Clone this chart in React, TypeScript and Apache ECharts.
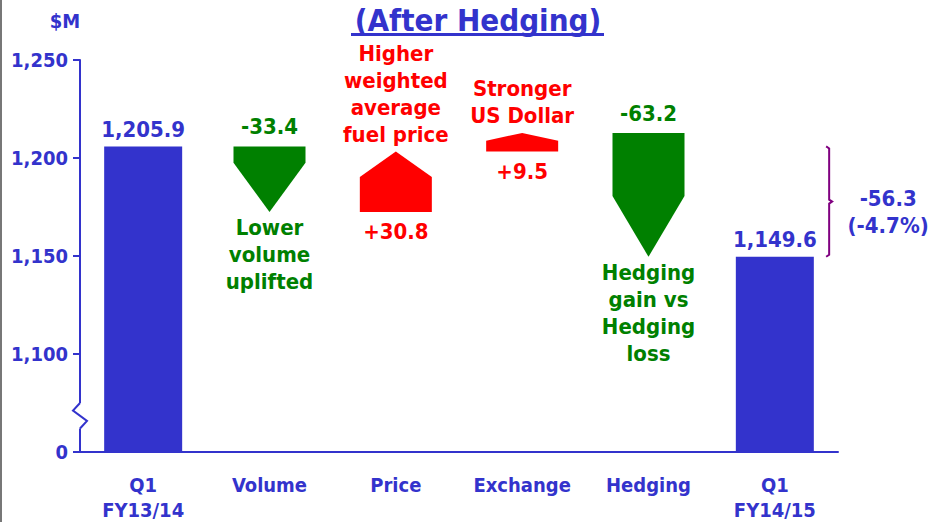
import React, { useEffect, useRef } from 'react';
import * as echarts from 'echarts';

// ---- data ----
const categories = ['Q1\nFY13/14', 'Volume', 'Price', 'Exchange', 'Hedging', 'Q1\nFY14/15'];
const startTotal = 1205.9;
const endTotal = 1149.6;
const deltaIndex = [1, 2, 3, 4];
const deltas = [-33.4, 30.8, 9.5, -63.2];
const deltaNotes = [
  'Lower\nvolume\nuplifted',
  'Higher\nweighted\naverage\nfuel price',
  'Stronger\nUS Dollar',
  'Hedging\ngain vs\nHedging\nloss',
];
const yMin = 1050; // shown as 0 (broken axis)
const yMax = 1250;
const yStep = 50;
const yZeroLabel = '0';
const breakRange = [1075, 1062]; // where the axis break zigzag sits

// ---- styles ----
const BLUE = '#3333CC';
const GREEN = '#008000';
const RED = '#FF0000';
const PURPLE = '#800080';
const FONT = "'DejaVu Sans Condensed', 'DejaVu Sans', sans-serif";
const headFrac = [0.75, 0.42, 0.42, 0.49];

const fmt1 = (v: number) => v.toLocaleString('en-US', { minimumFractionDigits: 1, maximumFractionDigits: 1 });

export default function App() {
  const ref = useRef<HTMLDivElement>(null);

  useEffect(() => {
    if (!ref.current) return;
    const chart = echarts.init(ref.current, undefined, { renderer: 'svg' });

    // waterfall segments
    const arrowData: number[][] = [];
    let run = startTotal;
    deltas.forEach((d, i) => {
      arrowData.push([deltaIndex[i], run, run + d, d]);
      run += d;
    });
    const totalData = categories.map((_, i) =>
      i === 0 ? startTotal : i === categories.length - 1 ? endTotal : '-'
    );
    const diff = endTotal - startTotal;
    const pct = (diff / startTotal) * 100;

    const txt = (text: string, x: number, y: number, color: string, size: number, va: string, lh = 27) => ({
      type: 'text',
      x,
      y,
      style: {
        text,
        fill: color,
        fontSize: size,
        fontWeight: 'bold',
        fontFamily: FONT,
        align: 'center',
        textAlign: 'center',
        verticalAlign: va,
        textVerticalAlign: va,
        lineHeight: lh,
      },
    });

    const option: any = {
      animation: false,
      grid: { left: 80, right: 99, top: 60, bottom: 70, containLabel: false, outerBoundsMode: 'none' },
      xAxis: {
        type: 'category',
        data: categories,
        axisLine: { lineStyle: { color: BLUE, width: 2 } },
        axisTick: { length: 6, lineStyle: { color: BLUE, width: 2 }, alignWithLabel: false },
        axisLabel: {
          color: BLUE,
          fontSize: 20,
          fontWeight: 'bold',
          fontFamily: FONT,
          margin: 20,
          lineHeight: 25,
          interval: 0,
        },
        splitLine: { show: false },
      },
      yAxis: {
        type: 'value',
        min: yMin,
        max: yMax,
        interval: yStep,
        axisLine: { show: true, lineStyle: { color: BLUE, width: 2 } },
        axisTick: { show: true, length: 7, lineStyle: { color: BLUE, width: 2 } },
        axisLabel: {
          color: BLUE,
          fontSize: 20,
          fontWeight: 'bold',
          fontFamily: FONT,
          margin: 12,
          formatter: (v: number) => (v === yMin ? yZeroLabel : v.toLocaleString('en-US')),
        },
        splitLine: { show: false },
      },
      graphic: [
        { type: 'rect', shape: { x: 0, y: 0, width: 2, height: 522 }, style: { fill: '#777777' } },
        txt('(After Hedging)', 478, 20, BLUE, 31, 'middle'),
        { type: 'rect', shape: { x: 351, y: 33, width: 253, height: 3 }, style: { fill: BLUE } },
        txt('$M', 65, 21, BLUE, 20, 'middle'),
      ],
      series: [
        {
          type: 'bar',
          data: totalData,
          barWidth: 78,
          itemStyle: { color: BLUE },
          clip: true,
          label: {
            show: true,
            position: 'top',
            distance: 6,
            color: BLUE,
            fontSize: 22,
            fontWeight: 'bold',
            fontFamily: FONT,
            formatter: (p: any) => fmt1(p.value),
          },
          z: 2,
        },
        {
          type: 'custom',
          clip: false,
          z: 3,
          data: arrowData,
          encode: { x: 0, y: [1, 2] },
          renderItem: (params: any, api: any) => {
            const idx = api.value(0);
            const s = api.value(1);
            const e = api.value(2);
            const d = api.value(3);
            const [cx, ys] = api.coord([idx, s]);
            const [, ye] = api.coord([idx, e]);
            const w = api.size([1, 0])[0] * 0.57;
            const f = headFrac[params.dataIndex];
            const ysh = ye + (ys - ye) * f;
            const color = d < 0 ? GREEN : RED;
            const down = d < 0;
            const valueText = (d > 0 ? '+' : '') + fmt1(d);
            return {
              type: 'group',
              children: [
                {
                  type: 'polygon',
                  shape: {
                    points: [
                      [cx - w / 2, ys],
                      [cx + w / 2, ys],
                      [cx + w / 2, ysh],
                      [cx, ye],
                      [cx - w / 2, ysh],
                    ],
                  },
                  style: { fill: color },
                },
                txt(valueText, cx, down ? ys - 6 : ys + 6, color, 22, down ? 'bottom' : 'top'),
                txt(deltaNotes[params.dataIndex], cx, down ? ye + 2 : ye - 4, color, 22, down ? 'top' : 'bottom'),
              ],
            };
          },
        },
        {
          type: 'custom',
          clip: false,
          z: 3,
          data: [[categories.length - 1, startTotal, endTotal]],
          encode: { x: 0, y: [1, 2] },
          renderItem: (params: any, api: any) => {
            const idx = api.value(0);
            const [x5, yt] = api.coord([idx, api.value(1)]);
            const [, yb] = api.coord([idx, api.value(2)]);
            const bx = x5 + api.size([1, 0])[0] * 0.43;
            const ym = (yt + yb) / 2;
            return {
              type: 'group',
              children: [
                {
                  type: 'polyline',
                  shape: {
                    points: [
                      [bx - 3, yt],
                      [bx, yt + 2],
                      [bx, ym - 2],
                      [bx + 3, ym],
                      [bx, ym + 2],
                      [bx, yb - 2],
                      [bx - 3, yb],
                    ],
                  },
                  style: { stroke: PURPLE, lineWidth: 2, fill: 'none' },
                },
                txt(fmt1(diff) + '\n(' + pct.toFixed(1) + '%)', bx + 59, ym + 10, BLUE, 22, 'middle'),
              ],
            };
          },
        },
        {
          type: 'custom',
          clip: false,
          z: 4,
          data: [[0, breakRange[0], breakRange[1]]],
          encode: { x: 0, y: [1, 2] },
          renderItem: (params: any, api: any) => {
            const ax = params.coordSys.x;
            const [, y1] = api.coord([0, api.value(1)]);
            const [, y2] = api.coord([0, api.value(2)]);
            const h = y2 - y1;
            return {
              type: 'group',
              children: [
                { type: 'rect', shape: { x: ax - 4, y: y1, width: 8, height: h }, style: { fill: '#ffffff' } },
                {
                  type: 'polyline',
                  shape: {
                    points: [
                      [ax, y1],
                      [ax - 7, y1 + h * 0.3],
                      [ax + 7, y1 + h * 0.7],
                      [ax, y2],
                    ],
                  },
                  style: { stroke: BLUE, lineWidth: 2, fill: 'none' },
                },
              ],
            };
          },
        },
      ],
    };

    chart.setOption(option);
    return () => chart.dispose();
  }, []);

  return (
    <div
      ref={ref}
      style={{ position: 'fixed', left: 0, top: 0, width: 937, height: 522, background: '#ffffff' }}
    />
  );
}
